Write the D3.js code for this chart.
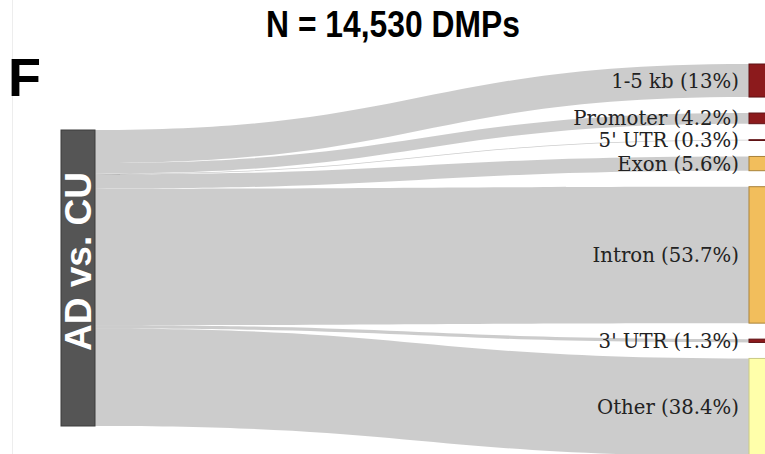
<!DOCTYPE html>
<html>
<head>
<meta charset="utf-8">
<script src="https://cdn.jsdelivr.net/npm/d3@7/dist/d3.min.js"></script>
<style>
  html, body { margin: 0; padding: 0; background: #fff; }
  svg { display: block; }
</style>
</head>
<body>
<svg id="chart" width="765" height="454"></svg>
<script>
// Genomic feature annotation of differentially methylated positions
const title = "N = 14,530 DMPs";
const panelLetter = "F";
const sourceLabel = "AD vs. CU";
const categories = ["1-5 kb", "Promoter", "5' UTR", "Exon", "Intron", "3' UTR", "Other"];
const percents = [13, 4.2, 0.3, 5.6, 53.7, 1.3, 38.4];

const W = 765, H = 454;
const svg = d3.select("#chart");

const color = d3.scaleOrdinal()
  .domain(categories)
  .range(["#8c1a1c", "#8c1a1c", "#8c1a1c", "#f2be5c", "#f2be5c", "#8c1a1c", "#ffffaa"]);
const strokeColor = d3.scaleOrdinal()
  .domain(categories)
  .range(["#5e1214", "#5e1214", "#5e1214", "#a8823a", "#a8823a", "#5e1214", "#c9c985"]);

// layout geometry
const nodeW = 34;
const srcX = 61, tgtX = 749;
const srcTop = 130, tgtTop = 64, pad = 16;
const total = d3.sum(percents);
const k = d3.scaleLinear().domain([0, total]).range([0, 296]);

// faint panel edge
svg.append("line")
  .attr("x1", 12.5).attr("x2", 12.5).attr("y1", 0).attr("y2", H)
  .attr("stroke", "#ededed").attr("stroke-width", 1);

// stack nodes / link ends
let sy = srcTop, ty = tgtTop;
const links = categories.map((c, i) => {
  const h = k(percents[i]);
  const l = { cat: c, pct: percents[i], sy0: sy, sy1: sy + h, ty0: ty, ty1: ty + h };
  sy += h; ty += h + pad;
  return l;
});

const x0 = srcX + nodeW, x1 = tgtX, xm = d3.interpolateNumber(x0, x1)(0.5);
function ribbon(l) {
  const p = d3.path();
  p.moveTo(x0, l.sy0);
  p.bezierCurveTo(xm, l.sy0, xm, l.ty0, x1, l.ty0);
  p.lineTo(x1, l.ty1);
  p.bezierCurveTo(xm, l.ty1, xm, l.sy1, x0, l.sy1);
  p.closePath();
  return p.toString();
}

svg.append("g").selectAll("path")
  .data(links).join("path")
  .attr("d", ribbon)
  .attr("fill", "#000")
  .attr("fill-opacity", 0.2);

// source node
svg.append("rect")
  .attr("x", srcX).attr("y", srcTop)
  .attr("width", nodeW).attr("height", k(total))
  .attr("fill", "#555555").attr("stroke", "#3d3d3d").attr("stroke-width", 1);

svg.append("text")
  .attr("transform", `translate(${srcX + nodeW / 2 + 13},${261.5}) rotate(-90)`)
  .attr("text-anchor", "middle")
  .attr("font-family", "Liberation Sans, Arial, sans-serif")
  .attr("font-weight", "bold")
  .attr("font-size", 37)
  .attr("fill", "#fff")
  .text(sourceLabel);

// target nodes
svg.append("g").selectAll("rect")
  .data(links).join("rect")
  .attr("x", tgtX).attr("y", d => d.ty0)
  .attr("width", nodeW).attr("height", d => Math.max(d.ty1 - d.ty0, 0.8))
  .attr("fill", d => color(d.cat))
  .attr("stroke", d => strokeColor(d.cat))
  .attr("stroke-width", 1);

svg.append("g").selectAll("text")
  .data(links).join("text")
  .attr("x", tgtX - 10)
  .attr("y", d => (d.ty0 + d.ty1) / 2)
  .attr("dy", "0.36em")
  .attr("text-anchor", "end")
  .attr("font-family", "DejaVu Serif, serif")
  .attr("font-size", 19.7)
  .attr("fill", "#222")
  .text(d => `${d.cat} (${d.pct}%)`);

// title (condensed bold) and panel letter
svg.append("text")
  .attr("transform", "translate(393,37) scale(0.86,1)")
  .attr("text-anchor", "middle")
  .attr("font-family", "Liberation Sans, Arial, sans-serif")
  .attr("font-weight", "bold")
  .attr("font-size", 37)
  .attr("fill", "#000")
  .text(title);

svg.append("text")
  .attr("x", 8).attr("y", 96)
  .attr("font-family", "Liberation Sans, Arial, sans-serif")
  .attr("font-weight", "bold")
  .attr("font-size", 54)
  .attr("fill", "#000")
  .text(panelLetter);
</script>
</body>
</html>
